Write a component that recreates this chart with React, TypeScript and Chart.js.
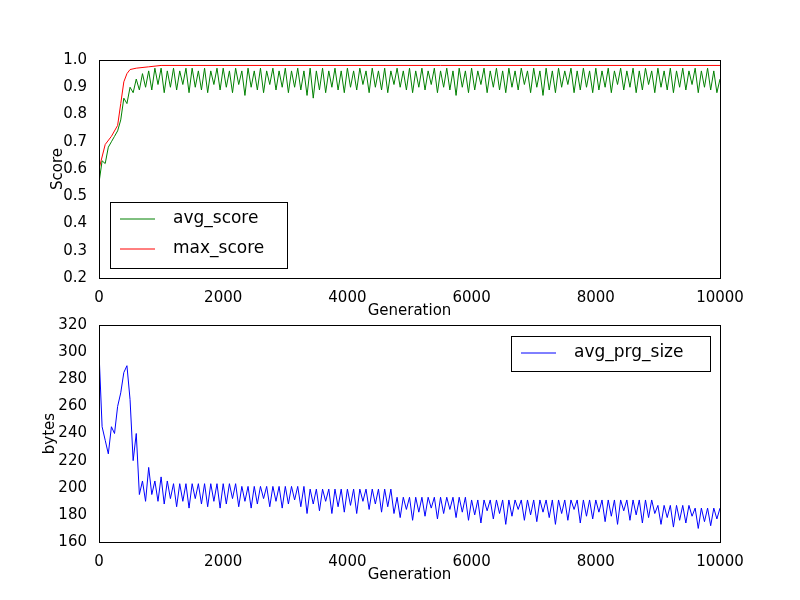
import React, { useEffect, useRef } from "react";
import { Chart, registerables } from "chart.js";
Chart.register(...registerables);

const STEP = 50;
const avgScore = [
.55,.63,.62,.68,.70,.72,.74,.78,.86,.84,.90,.88,.93,.89,.95,.90,.96,.89,.97,.91,
.97,.88,.96,.90,.97,.89,.96,.91,.97,.88,.97,.90,.96,.89,.97,.88,.96,.91,.97,.89,
.97,.90,.96,.88,.97,.91,.96,.87,.97,.90,.96,.89,.97,.88,.96,.91,.97,.89,.96,.90,
.97,.88,.96,.90,.97,.89,.96,.87,.97,.86,.96,.89,.97,.88,.96,.90,.97,.89,.96,.88,
.97,.90,.96,.89,.97,.91,.96,.88,.97,.90,.96,.89,.97,.88,.96,.91,.97,.90,.96,.89,
.97,.88,.96,.90,.97,.89,.96,.91,.97,.88,.96,.90,.97,.89,.96,.87,.97,.90,.96,.88,
.97,.89,.96,.91,.97,.88,.96,.90,.97,.89,.96,.88,.97,.90,.96,.89,.97,.91,.96,.88,
.97,.90,.96,.87,.97,.89,.96,.88,.97,.90,.96,.91,.97,.88,.96,.89,.97,.90,.96,.88,
.97,.89,.96,.90,.97,.88,.96,.91,.97,.89,.96,.90,.97,.88,.96,.89,.97,.91,.96,.88,
.97,.90,.96,.89,.97,.88,.96,.90,.97,.89,.96,.91,.97,.88,.96,.90,.97,.89,.96,.88,
.93];
const maxX = [0, 100, 200, 300, 350, 400, 450, 500, 600, 800, 1000, 10000];
const maxY = [0.6, 0.69, 0.72, 0.76, 0.84, 0.92, 0.95, 0.965, 0.97, 0.975, 0.98, 0.98];
const avgSize = [
300,245,235,225,245,240,260,270,285,290,265,220,240,195,205,190,215,195,205,190,
208,188,205,192,203,186,203,190,203,185,203,192,203,188,203,186,203,190,203,185,
203,188,203,192,203,186,201,190,201,185,201,188,201,192,201,186,201,190,201,185,
201,188,201,191,201,186,201,181,199,188,199,183,199,190,199,181,199,186,199,182,
199,187,199,181,199,190,199,184,199,188,199,182,199,186,199,181,193,178,193,184,
193,176,193,182,193,179,193,185,193,177,193,181,193,184,193,178,193,182,193,176,
191,180,191,174,191,183,191,177,191,181,191,173,191,179,191,184,191,176,191,180,
191,175,191,182,191,178,191,173,191,181,191,176,191,184,191,174,191,179,191,177,
191,182,191,175,191,179,191,173,191,183,191,176,191,180,191,174,191,178,191,181,
187,173,187,178,187,171,187,176,187,174,187,179,185,170,185,175,185,172,185,177,
185];

const FONT = "'DejaVu Sans'";

const frame = {
  id: "frame",
  afterDraw(c: any) {
    const { ctx, chartArea: a } = c;
    ctx.save();
    ctx.strokeStyle = "#000"; ctx.lineWidth = 1;
    ctx.strokeRect(a.left + 0.5, a.top + 0.5, a.right - a.left, a.bottom - a.top);
    const o = c.options.plugins.mplLegend;
    if (o) {
      const x = o.fromRight ? a.right - o.dx : a.left + o.dx;
      const y = a.top + o.dy;
      ctx.fillStyle = "#fff";
      ctx.fillRect(x, y, o.w, o.h);
      ctx.strokeRect(x + 0.5, y + 0.5, o.w, o.h);
      ctx.font = "17px " + FONT; ctx.textBaseline = "middle"; ctx.fillStyle = "#000";
      o.items.forEach((it: any, i: number) => {
        const yy = y + 17 + i * 30;
        ctx.strokeStyle = it.color; ctx.beginPath();
        ctx.moveTo(x + 10, yy); ctx.lineTo(x + 45, yy); ctx.stroke();
        ctx.fillText(it.label, x + 63, yy);
      });
    }
    ctx.restore();
  },
};

function makeChart(canvas: HTMLCanvasElement, cfg: any) {
  const tickFont = { family: FONT, size: 15 };
  const t = { color: "#000", font: tickFont };
  return new Chart(canvas, {
    type: "line",
    data: { datasets: cfg.datasets },
    plugins: [frame],
    options: {
      animation: false, responsive: false, maintainAspectRatio: false,
      layout: { padding: cfg.padding },
      elements: { point: { radius: 0 }, line: { borderWidth: 1, tension: 0 } },
      plugins: { legend: { display: false }, tooltip: { enabled: false }, mplLegend: cfg.legend } as any,
      scales: {
        x: {
          type: "linear", min: 0, max: 10000,
          ticks: { ...t, stepSize: 2000, padding: 3, maxRotation: 0, callback: (v: number) => String(v) },
          grid: { display: false }, border: { color: "#000" },
          title: { display: true, text: "Generation", color: "#000", font: tickFont, padding: 0 },
          afterFit: (s: any) => { s.height = cfg.xh; },
        },
        y: {
          min: cfg.ymin, max: cfg.ymax,
          ticks: { ...t, stepSize: cfg.ystep, padding: 4, callback: cfg.yfmt },
          grid: { display: false }, border: { color: "#000" },
          title: { display: true, text: cfg.ytitle, color: "#000", font: tickFont, padding: 0 },
          afterFit: (s: any) => { s.width = cfg.yw; },
        },
      },
    } as any,
  });
}

export default function App() {
  const r1 = useRef<HTMLCanvasElement>(null);
  const r2 = useRef<HTMLCanvasElement>(null);
  useEffect(() => {
    const c1 = makeChart(r1.current!, {
      padding: { left: 49, right: 80, top: 60, bottom: 0 },
      yw: 50, xh: 42, ymin: 0.2, ymax: 1.0, ystep: 0.1, ytitle: "Score",
      yfmt: (v: number) => v.toFixed(1),
      datasets: [
        { data: avgScore.map((y, i) => ({ x: i * STEP, y })), borderColor: "#008000" },
        { data: maxX.map((x, i) => ({ x, y: maxY[i] })), borderColor: "#ff0000" },
      ],
      legend: { dx: 11, dy: 142, w: 177, h: 66, items: [
        { label: "avg_score", color: "#008000" }, { label: "max_score", color: "#ff0000" }] },
    });
    const c2 = makeChart(r2.current!, {
      padding: { left: 41, right: 80, top: 0, bottom: 18 },
      yw: 58, xh: 42, ymin: 160, ymax: 320, ystep: 20, ytitle: "bytes",
      yfmt: (v: number) => String(v),
      datasets: [{ data: avgSize.map((y, i) => ({ x: i * STEP, y })), borderColor: "#0000ff" }],
      legend: { fromRight: true, dx: 209, dy: 11, w: 199, h: 35, items: [
        { label: "avg_prg_size", color: "#0000ff" }] },
    });
    return () => { c1.destroy(); c2.destroy(); };
  }, []);
  return (
    <div style={{ position: "fixed", left: 0, top: 0, width: 800, height: 600, background: "#fff" }}>
      <canvas ref={r1} width={800} height={320} style={{ position: "absolute", left: 0, top: 0 }} />
      <canvas ref={r2} width={800} height={290} style={{ position: "absolute", left: 0, top: 312 }} />
    </div>
  );
}
